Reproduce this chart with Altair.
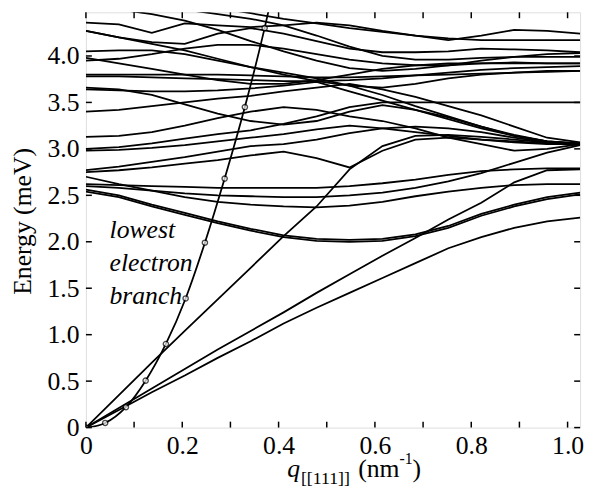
import altair as alt
import pandas as pd

# q grid (nm^-1)
Q = [0.0, 0.0684, 0.1368, 0.2052, 0.2736, 0.342, 0.4104, 0.4788, 0.5472,
     0.6156, 0.684, 0.7524, 0.8208, 0.8892, 0.9576, 1.026]

# phonon branches (meV) at the q grid
TA1 = [0, 0.19, 0.38, 0.56, 0.75, 0.93, 1.12, 1.29, 1.45, 1.61, 1.77, 1.93, 2.05, 2.15, 2.22, 2.26]
TA2 = [0, 0.21, 0.42, 0.63, 0.84, 1.04, 1.24, 1.45, 1.65, 1.85, 2.04, 2.24, 2.42, 2.64, 2.77, 2.78]
LA = [0, 0.35, 0.70, 1.04, 1.38, 1.72, 2.06, 2.38, 2.78, 3.03, 3.14, 3.15, 3.13, 3.10, 3.07, 3.05]
DBL1 = [2.56, 2.50, 2.40, 2.31, 2.22, 2.14, 2.07, 2.03, 2.02, 2.03, 2.08, 2.17, 2.30, 2.40, 2.48, 2.53]
DBL2 = [2.54, 2.48, 2.38, 2.29, 2.20, 2.12, 2.05, 2.01, 2.00, 2.01, 2.06, 2.15, 2.28, 2.38, 2.46, 2.51]
M1 = [2.62, 2.61, 2.60, 2.59, 2.58, 2.58, 2.58, 2.58, 2.60, 2.63, 2.67, 2.72, 2.76, 2.78, 2.79, 2.79]
M2 = [2.60, 2.58, 2.55, 2.52, 2.50, 2.49, 2.48, 2.48, 2.50, 2.53, 2.58, 2.65, 2.74, 2.85, 2.96, 3.04]
M3 = [2.70, 2.62, 2.55, 2.48, 2.43, 2.40, 2.38, 2.37, 2.39, 2.43, 2.49, 2.54, 2.58, 2.61, 2.62, 2.62]
R1 = [2.77, 2.81, 2.86, 2.91, 2.97, 3.03, 3.05, 3.10, 3.17, 3.22, 3.24, 3.22, 3.18, 3.12, 3.07, 3.05]
R2 = [2.75, 2.77, 2.80, 2.84, 2.88, 2.93, 2.97, 2.90, 2.80, 2.98, 3.10, 3.12, 3.10, 3.08, 3.06, 3.04]
P1 = [3.13, 3.14, 3.18, 3.25, 3.33, 3.40, 3.45, 3.42, 3.35, 3.30, 3.22, 3.12, 3.05, 2.98, 3.00, 3.05]
P2 = [3.00, 3.02, 3.06, 3.11, 3.16, 3.20, 3.27, 3.35, 3.45, 3.50, 3.50, 3.50, 3.50, 3.50, 3.50, 3.50]
P3 = [2.98, 2.99, 3.01, 3.04, 3.08, 3.12, 3.16, 3.21, 3.25, 3.22, 3.18, 3.14, 3.10, 3.07, 3.05, 3.05]
P4 = [3.66, 3.64, 3.58, 3.48, 3.38, 3.30, 3.26, 3.30, 3.40, 3.47, 3.42, 3.34, 3.24, 3.14, 3.08, 3.06]
P5 = [3.64, 3.63, 3.62, 3.62, 3.63, 3.65, 3.68, 3.72, 3.62, 3.52, 3.42, 3.32, 3.22, 3.14, 3.08, 3.05]
P6 = [3.40, 3.42, 3.46, 3.50, 3.54, 3.57, 3.62, 3.66, 3.70, 3.64, 3.56, 3.46, 3.36, 3.24, 3.12, 3.07]
F1 = [3.80, 3.80, 3.80, 3.80, 3.80, 3.79, 3.78, 3.77, 3.77, 3.78, 3.79, 3.80, 3.81, 3.82, 3.83, 3.84]
F2 = [3.78, 3.78, 3.77, 3.76, 3.75, 3.74, 3.73, 3.73, 3.74, 3.76, 3.79, 3.82, 3.85, 3.87, 3.88, 3.89]
F3 = [3.98, 3.92, 3.86, 3.80, 3.74, 3.70, 3.70, 3.74, 3.80, 3.86, 3.90, 3.92, 3.92, 3.92, 3.92, 3.92]
F4 = [4.05, 4.06, 4.06, 4.02, 3.95, 3.88, 3.82, 3.76, 3.68, 3.58, 3.46, 3.35, 3.24, 3.15, 3.08, 3.06]
G1 = [3.95, 3.97, 4.02, 4.08, 4.12, 4.12, 4.08, 4.02, 3.96, 3.92, 3.90, 3.90, 3.92, 3.93, 3.92, 3.92]
X1 = [4.27, 4.20, 4.13, 4.06, 3.97, 3.88, 3.80, 3.73, 3.68, 3.66, 3.70, 3.76, 3.80, 3.82, 3.84, 3.84]
T1 = [4.36, 4.34, 4.25, 4.35, 4.33, 4.31, 4.33, 4.36, 4.33, 4.27, 4.22, 4.17, 4.22, 4.28, 4.27, 4.24]
T2 = [4.27, 4.20, 4.15, 4.13, 4.24, 4.30, 4.24, 4.16, 4.08, 4.04, 4.04, 4.05, 4.08, 4.07, 4.06, 4.04]
D1 = [4.55, 4.50, 4.45, 4.38, 4.28, 4.16, 4.05, 3.95, 3.87, 3.84, 3.86, 3.90, 3.95, 3.99, 4.02, 4.03]
D2 = [4.60, 4.58, 4.55, 4.50, 4.45, 4.40, 4.33, 4.22, 4.10, 4.00, 3.96, 3.96, 3.98, 3.99, 3.99, 3.99]
D3 = [4.70, 4.68, 4.64, 4.58, 4.52, 4.46, 4.40, 4.35, 4.30, 4.26, 4.22, 4.19, 4.17, 4.17, 4.17, 4.17]

BRANCHES = {"TA1": TA1, "TA2": TA2, "LA": LA, "DBL1": DBL1, "DBL2": DBL2,
            "M1": M1, "M2": M2, "M3": M3, "R1": R1, "R2": R2,
            "P1": P1, "P2": P2, "P3": P3, "P4": P4, "P5": P5, "P6": P6,
            "F1": F1, "F2": F2, "F3": F3, "F4": F4, "G1": G1, "X1": X1,
            "T1": T1, "T2": T2, "D1": D1, "D2": D2, "D3": D3}

# lowest electron branch (circles)
EQ = [0.0, 0.040, 0.083, 0.124, 0.166, 0.207, 0.247, 0.288, 0.330, 0.371]
EE = [0.0, 0.05, 0.22, 0.505, 0.90, 1.39, 1.99, 2.68, 3.45, 4.30]
ELINE_Q = EQ + [0.385]
ELINE_E = EE + [4.62]

X_TICKS = [0.0, 0.1, 0.2, 0.3, 0.4, 0.5, 0.6, 0.7, 0.8, 0.9, 1.0]
X_LABELS = [0.0, 0.2, 0.4, 0.6, 0.8, 1.0]
Y_TICKS = [0.0, 0.5, 1.0, 1.5, 2.0, 2.5, 3.0, 3.5, 4.0]

W, H = 501, 421
XMAX, YMAX = 1.026, 4.47
SERIF = "Times New Roman"

rows = []
for name, vals in BRANCHES.items():
    for q, e in zip(Q, vals):
        rows.append({"q": q, "E": e, "b": name})
df = pd.DataFrame(rows)

xs = alt.Scale(domain=[0, XMAX], nice=False, zero=False)
ys = alt.Scale(domain=[0, YMAX], nice=False, zero=False)

label_expr = "datum.value == 0 ? '0' : format(datum.value, '.1f')"

base = alt.Chart(df).mark_line(color="black", strokeWidth=1.8, clip=True).encode(
    x=alt.X("q:Q", scale=xs,
            axis=alt.Axis(values=X_LABELS, labelExpr=label_expr, title=None,
                          ticks=False, domain=False, grid=False,
                          labelFont=SERIF, labelFontSize=26, labelColor="black",
                          labelPadding=5, labelFlush=False)),
    y=alt.Y("E:Q", scale=ys,
            axis=alt.Axis(values=Y_TICKS, labelExpr=label_expr, title=None,
                          ticks=False, domain=False, grid=False,
                          labelFont=SERIF, labelFontSize=26, labelColor="black",
                          labelPadding=7, labelFlush=False, labelBaseline="middle")),
    detail="b:N",
)

edf = pd.DataFrame({"q": ELINE_Q, "E": ELINE_E})
eline = alt.Chart(edf).mark_line(color="black", strokeWidth=1.8, clip=True,
                                 interpolate="monotone").encode(
    x=alt.X("q:Q", scale=xs), y=alt.Y("E:Q", scale=ys))
epts = alt.Chart(pd.DataFrame({"q": EQ, "E": EE})).mark_point(
    shape="circle", size=28, color="black", strokeWidth=1.4, filled=False,
    fill="white", clip=True).encode(x=alt.X("q:Q", scale=xs), y=alt.Y("E:Q", scale=ys))

xt = pd.DataFrame({"q": X_TICKS})
yt = pd.DataFrame({"E": Y_TICKS})
tick_bottom = alt.Chart(xt).mark_rule(color="black", strokeWidth=1.5).encode(
    x=alt.X("q:Q", scale=xs), y=alt.value(H), y2=alt.value(H - 6))
tick_top = alt.Chart(xt).mark_rule(color="black", strokeWidth=1.5).encode(
    x=alt.X("q:Q", scale=xs), y=alt.value(0), y2=alt.value(6))
tick_left = alt.Chart(yt).mark_rule(color="black", strokeWidth=1.5).encode(
    y=alt.Y("E:Q", scale=ys), x=alt.value(0), x2=alt.value(6))
tick_right = alt.Chart(yt).mark_rule(color="black", strokeWidth=1.5).encode(
    y=alt.Y("E:Q", scale=ys), x=alt.value(W - 6), x2=alt.value(W))

ann = pd.DataFrame({"t": ["lowest", "electron", "branch"],
                    "q": [0.049, 0.049, 0.049], "E": [2.04, 1.69, 1.33]})
annot = alt.Chart(ann).mark_text(font=SERIF, fontSize=26, fontStyle="italic",
                                 align="left", baseline="alphabetic", color="black").encode(
    x=alt.X("q:Q", scale=xs), y=alt.Y("E:Q", scale=ys), text="t:N")

def txt(s, x, y, size=26, style="normal", angle=0, align="left", baseline="alphabetic"):
    return alt.Chart(pd.DataFrame({"t": [s]})).mark_text(
        font=SERIF, fontSize=size, fontStyle=style, angle=angle, align=align,
        baseline=baseline, color="black").encode(
        x=alt.value(x), y=alt.value(y), text="t:N")

ytitle = txt("Energy (meV)", -64, 212, size=26, angle=270, align="center", baseline="middle")
xq = txt("q", 204, 471, style="italic")
xsub = txt("[[111]]", 218, 478, size=18)
xnm = txt("(nm", 276, 471)
xsup = txt("-1", 318, 458, size=16)
xpar = txt(")", 331, 471)

chart = alt.layer(
    base, eline, epts, tick_bottom, tick_top, tick_left, tick_right,
    annot, ytitle, xq, xsub, xnm, xsup, xpar
).properties(
    width=W, height=H,
    autosize=alt.AutoSizeParams(type="none"),
    padding={"left": 79, "top": 1, "right": 8, "bottom": 66},
).configure_view(
    stroke="black", strokeWidth=3
).configure_axis(
    labelFont=SERIF, labelFontSize=26, labelColor="black"
).configure(background="white")

chart.save("out.html", embed_options={"renderer": "svg", "actions": False})
